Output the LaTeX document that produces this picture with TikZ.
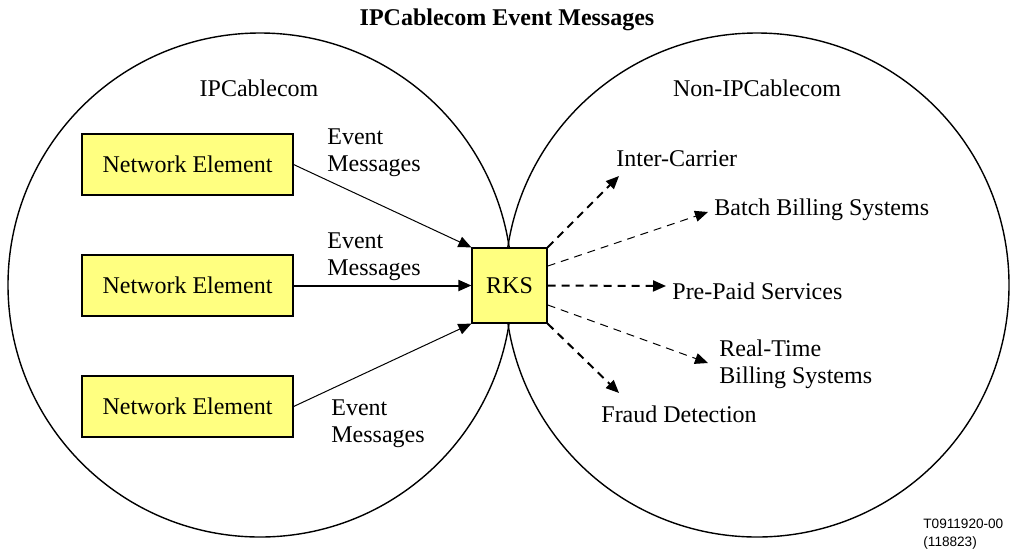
\documentclass[tikz,border=0pt]{standalone}
\usepackage{fontspec}
\setmainfont{Liberation Serif}
\setsansfont{Liberation Sans}
\usetikzlibrary{arrows.meta}
\definecolor{boxyellow}{RGB}{255,255,128}

\tikzset{
  elem/.style={draw=black, fill=boxyellow, line width=0.6pt, minimum width=105.5pt, minimum height=30.5pt, inner sep=0pt},
  rksbox/.style={draw=black, fill=boxyellow, line width=0.6pt, minimum width=37.5pt, minimum height=37.5pt, inner sep=0pt},
  lbl/.style={inner sep=0pt, align=left},
  tip/.style={-{Triangle[length=6.5pt,width=5.5pt]}},
  thinmsg/.style={tip, line width=0.5pt},
  thickmsg/.style={tip, line width=1pt},
  thinfeed/.style={tip, line width=0.5pt, dash pattern=on 4pt off 3pt},
  thickfeed/.style={tip, line width=1pt, dash pattern=on 4pt off 3pt}
}

\begin{document}
\begin{tikzpicture}[x=0.5pt, y=-0.5pt, font=\fontsize{12}{13.5}\selectfont]
                \useasboundingbox (0,0) rectangle (1015,553);
                % the two domains
                \coordinate (ipc) at (260,285);
                \coordinate (nonipc) at (757,285);
                \draw[line width=0.7pt] (ipc) circle (126pt);
                 \draw[line width=0.7pt] (nonipc) circle (126pt);
                 \node[font=\fontsize{12}{13.5}\selectfont\bfseries] (title) at (507,20) {IPCablecom Event Messages};
                 \node (ipclbl) at (259,88) {IPCablecom};
                 \node (nonipclbl) at (757,88) {Non-IPCablecom};
                 % elements and RKS
                 \node[elem] (ne1) at (187.5,164.5) {Network Element};
                 \node[elem] (ne2) at (187.5,285.5) {Network Element};
                 \node[elem] (ne3) at (187.5,406.5) {Network Element};
                 \node[rksbox] (rks) at (509.5,285.5) {RKS};
                 \draw[thinmsg] (ne1.east) -- (rks.north west);
                 \draw[thickmsg] (ne2.east) -- (rks.west);
                 \draw[thinmsg] (ne3.east) -- (rks.south west);
                 \node[lbl, anchor=west] (em1) at (327,153) {Event\\Messages};
                 \node[lbl, anchor=west] (em2) at (327,257) {Event\\Messages};
                 \node[lbl, anchor=west] (em3) at (331,424) {Event\\Messages};
                 % billing feeds
                 \coordinate (tointer) at (619,176);
                 \coordinate (tobatch) at (708,212);
                 \coordinate (toprepaid) at (666,286);
                 \coordinate (torealtime) at (708,363);
                 \coordinate (tofraud) at (619,393);
                 \draw[thickfeed] (rks.north east) -- (tointer);
                 \draw[thinfeed] (rks.27) -- (tobatch);
                 \draw[thickfeed] (rks.east) -- (toprepaid);
                 \draw[thinfeed] (rks.-27) -- (torealtime);
                 \draw[thickfeed] (rks.south east) -- (tofraud);
                 \node[lbl, anchor=west] (inter) at (616,159) {Inter-Carrier};
                 \node[lbl, anchor=west] (batch) at (714,210) {Batch Billing Systems};
                 \node[lbl, anchor=west] (prepaid) at (672,291) {Pre-Paid Services};
                 \node[lbl, anchor=west] (realtime) at (719,364) {Real-Time\\Billing Systems};
                 \node[lbl, anchor=west] (fraud) at (601,414) {Fraud Detection};
                 \node[lbl, anchor=west, font=\sffamily\fontsize{6.8}{9}\selectfont] (figid) at (923,534) {T0911920-00\\(118823)};
            \end{tikzpicture}
\end{document}
